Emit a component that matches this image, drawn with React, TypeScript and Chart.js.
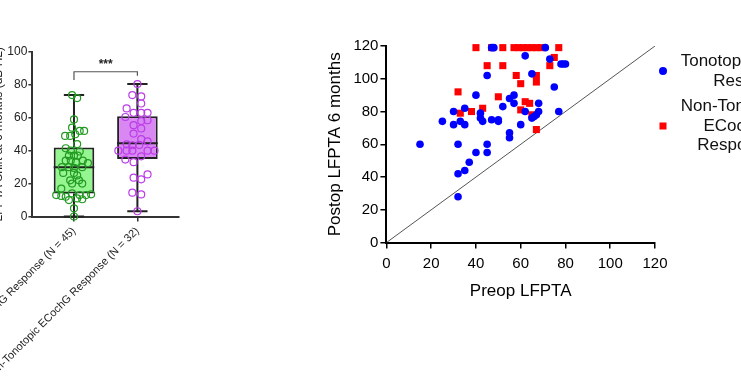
import React, { useEffect, useRef } from "react";
import { Chart, registerables } from "chart.js";

Chart.register(...registerables);

const FONT = '"Liberation Sans", Arial, Helvetica, sans-serif';

// ---------- Left panel: box plot ----------
const groupLabels = ["Tonotopic ECochG Response (N = 45)", "Non-Tonotopic ECochG Response (N = 32)"];
const groupPositions = [0, 1];
const boxQ1 = [14, 35];
const boxQ3 = [42, 61];
const boxMedian = [30, 44.5];
const whiskerLow = [0, 3.2];
const whiskerHigh = [73.8, 80.5];
const leftYTitle = "LFPTA Shift at 6 months (dB HL)";

const tonoShift = [73.8, 72, 59, 54, 49, 49, 52, 52, 50, 44, 41.5, 40, 39.5, 37, 37, 37, 34, 34, 33, 34, 32.5, 30, 30, 29.5, 30, 26.5, 26.5, 25, 22, 22, 20, 20, 17, 13, 12.5, 12, 14, 13, 13, 13.5, 10, 11, 10.5, 5, 0];
const tonoJitter = [-0.03, 0.05, 0, -0.03, -0.14, -0.06, 0.09, 0.16, 0.02, 0.05, -0.13, -0.05, 0.09, -0.08, 0, 0.06, -0.13, -0.05, 0.03, 0.14, 0.22, -0.19, -0.08, 0, 0.13, -0.17, 0, 0.05, -0.06, 0.08, -0.03, 0.13, -0.2, -0.28, -0.2, -0.13, -0.03, 0.09, 0.19, 0.27, -0.08, 0.05, 0.13, 0, 0];
const nonTonoShift = [80.5, 73.8, 73, 68.7, 65.7, 63, 63, 63, 60.5, 58.5, 58, 55.5, 53.5, 50.4, 47, 45.7, 43.9, 43.3, 43.5, 40, 40, 40, 40, 40, 34.6, 33, 36.6, 23.6, 22.6, 25.6, 14.5, 13.4, 3.2];
const nonTonoJitter = [0, -0.08, 0.06, 0.06, -0.17, -0.06, 0.06, 0.16, -0.19, 0.16, 0.06, -0.06, 0.06, -0.06, 0.06, 0.16, -0.17, -0.08, 0.03, -0.3, -0.17, -0.08, 0.16, 0.27, -0.19, -0.06, 0.06, -0.06, 0.06, 0.16, -0.08, 0.06, 0];

const bracketX = [0, 0, 1, 1];
const bracketY = [83, 88, 88, 85.5];
const sigText = "***";
const sigPos = [0.5, 92];

// ---------- Right panel: scatter ----------
const tonoPreop = [15, 25, 30, 30, 32, 32, 35, 37, 32, 33, 35, 35, 40, 40, 42, 42, 43, 45, 45, 45, 47, 48, 47, 50, 50, 52, 55, 57, 57, 55, 55, 60, 62, 62, 65, 65, 66, 67, 68, 68, 71, 73, 75, 77, 78, 79, 80];
const tonoPostop = [60, 74, 80, 72, 60, 42, 44, 49, 28, 74, 72, 82, 90, 55, 79, 76, 74, 102, 60, 55, 119, 119, 75, 75, 74, 83, 88, 90, 85, 67, 64, 72, 114, 80, 103, 76, 77, 78, 80, 85, 119, 112, 95, 80, 109, 109, 109];
const nonTonoPreop = [40, 47, 52, 57, 59, 61, 63, 65, 67, 69, 77, 45, 52, 73, 75, 32, 33, 38, 43, 50, 58, 60, 62, 64, 60, 67, 67, 65, 67];
const nonTonoPostop = [119, 119, 119, 119, 119, 119, 119, 119, 119, 119, 119, 108, 108, 108, 113, 92, 79, 80, 82, 89, 102, 97, 86, 85, 81, 102, 98, 78, 69];
const identityX = [0, 120];
const identityY = [0, 120];
const rightXTitle = "Preop LFPTA";
const rightYTitle = "Postop LFPTA 6 months";
const legendLines = [["Tonotopic ECochG", "Response"], ["Non-Tonotopic", "ECochG", "Response"]];

type Target = { left: number; top: number; right: number; bottom: number };

function fitTo(chart: any, canvas: HTMLCanvasElement, t: Target) {
  for (let i = 0; i < 5; i++) {
    const ca = chart.chartArea;
    const dw = (t.right - t.left) - (ca.right - ca.left);
    const dh = (t.bottom - t.top) - (ca.bottom - ca.top);
    if (Math.abs(dw) < 0.5 && Math.abs(dh) < 0.5) break;
    chart.resize(Math.round(chart.width + dw), Math.round(chart.height + dh));
  }
  const ca = chart.chartArea;
  canvas.style.left = `${Math.round(t.left - ca.left)}px`;
  canvas.style.top = `${Math.round(t.top - ca.top)}px`;
}

const axisGrid = (color: string, len: number) => ({
  display: true,
  drawOnChartArea: false,
  drawTicks: true,
  tickLength: len,
  color,
  lineWidth: 1.5,
  offset: false,
});

export default function App() {
  const leftRef = useRef<HTMLCanvasElement>(null);
  const rightRef = useRef<HTMLCanvasElement>(null);

  useEffect(() => {
    Chart.defaults.font.family = FONT;
    const lc = leftRef.current!;
    const rc = rightRef.current!;

    const seg: any[] = [];
    const capHalf = 0.16;
    const boxHalf = 0.32;
    groupPositions.forEach((p, i) => {
      seg.push({ x: p, y: whiskerLow[i] }, { x: p, y: boxQ1[i] }, { x: p, y: null });
      seg.push({ x: p, y: boxQ3[i] }, { x: p, y: whiskerHigh[i] }, { x: p, y: null });
      seg.push({ x: p - capHalf, y: whiskerLow[i] }, { x: p + capHalf, y: whiskerLow[i] }, { x: p, y: null });
      seg.push({ x: p - capHalf, y: whiskerHigh[i] }, { x: p + capHalf, y: whiskerHigh[i] }, { x: p, y: null });
      seg.push({ x: p - boxHalf, y: boxMedian[i] }, { x: p + boxHalf, y: boxMedian[i] }, { x: p, y: null });
    });

    const starsPlugin = {
      id: "stars",
      afterDatasetsDraw(chart: any) {
        const { ctx, scales } = chart;
        ctx.save();
        ctx.font = `bold 12px ${FONT}`;
        ctx.fillStyle = "#222";
        ctx.textAlign = "center";
        ctx.textBaseline = "middle";
        ctx.fillText(sigText, scales.x.getPixelForValue(sigPos[0]), scales.y.getPixelForValue(sigPos[1]));
        ctx.restore();
      },
    };

    const left = new Chart(lc, {
      type: "bar",
      data: {
        datasets: [
          {
            type: "scatter",
            data: tonoShift.map((v, i) => ({ x: groupPositions[0] + tonoJitter[i], y: v })),
            pointStyle: "circle",
            pointRadius: 3.5,
            borderColor: "#229a22",
            backgroundColor: "rgba(0,0,0,0)",
            borderWidth: 1.2,
            clip: false,
            order: 0,
          } as any,
          {
            type: "scatter",
            data: nonTonoShift.map((v, i) => ({ x: groupPositions[1] + nonTonoJitter[i], y: v })),
            pointStyle: "circle",
            pointRadius: 3.5,
            borderColor: "#bb3de8",
            backgroundColor: "rgba(0,0,0,0)",
            borderWidth: 1.2,
            clip: false,
            order: 0,
          } as any,
          {
            type: "line",
            data: seg,
            borderColor: "#222",
            borderWidth: 2,
            pointRadius: 0,
            spanGaps: false,
            clip: false,
            order: 1,
          } as any,
          {
            type: "line",
            data: bracketX.map((x, i) => ({ x, y: bracketY[i] })),
            borderColor: "#555",
            borderWidth: 1.2,
            pointRadius: 0,
            clip: false,
            order: 1,
          } as any,
          {
            type: "bar",
            data: groupPositions.map((p, i) => ({ x: p, y: [boxQ1[i], boxQ3[i]] })),
            backgroundColor: ["#95f590", "#d987f3"],
            borderColor: "#222",
            borderWidth: 2,
            borderSkipped: false,
            barPercentage: 0.64,
            categoryPercentage: 1,
            order: 2,
          } as any,
        ],
      },
      options: {
        animation: false,
        responsive: false,
        maintainAspectRatio: false,
        layout: { padding: { top: 10, right: 10, left: 0, bottom: 0 } },
        plugins: { legend: { display: false }, tooltip: { enabled: false } },
        scales: {
          x: {
            type: "linear",
            min: -0.656,
            max: 1.656,
            offset: false,
            afterBuildTicks: (s: any) => {
              s.ticks = groupPositions.map((v) => ({ value: v }));
            },
            ticks: {
              autoSkip: false,
              maxRotation: 45,
              minRotation: 45,
              padding: 3,
              color: "#222",
              font: { size: 11, family: FONT },
              callback: (v: any) => {
                const i = groupPositions.indexOf(Number(v));
                return i >= 0 ? groupLabels[i] : "";
              },
            },
            grid: axisGrid("#333", 5),
            border: { display: true, color: "#333", width: 2 },
          },
          y: {
            type: "linear",
            min: 0,
            max: 100,
            ticks: { stepSize: 20, padding: 1, color: "#222", font: { size: 12, family: FONT } },
            grid: axisGrid("#333", 4),
            border: { display: true, color: "#333", width: 2 },
            title: {
              display: true,
              text: leftYTitle,
              color: "#222",
              font: { size: 12, family: FONT },
              padding: { top: 0, bottom: 0 },
            },
          },
        },
      } as any,
      plugins: [starsPlugin],
    });
    fitTo(left, lc, { left: 32, top: 52, right: 180, bottom: 216 });

    const legendPlugin = {
      id: "sideLegend",
      afterDraw(chart: any) {
        const { ctx, chartArea } = chart;
        const x0 = chartArea.right;
        const y0 = chartArea.top;
        ctx.save();
        ctx.font = `17px ${FONT}`;
        ctx.fillStyle = "#111";
        ctx.textAlign = "center";
        ctx.textBaseline = "middle";
        const items = [
          { lines: legendLines[0], top: 15.7, marker: 25, color: "#0000ff", shape: "circle" },
          { lines: legendLines[1], top: 60.7, marker: 80, color: "#ff0000", shape: "rect" },
        ];
        items.forEach((it) => {
          const w = Math.max(...it.lines.map((l) => ctx.measureText(l).width));
          const cx = x0 + 25.7 + w / 2;
          it.lines.forEach((l, k) => ctx.fillText(l, cx, y0 + it.top + k * 19.2));
          ctx.fillStyle = it.color;
          if (it.shape === "circle") {
            ctx.beginPath();
            ctx.arc(x0 + 8, y0 + it.marker, 4, 0, Math.PI * 2);
            ctx.fill();
          } else {
            ctx.fillRect(x0 + 4.5, y0 + it.marker - 3.5, 7, 7);
          }
          ctx.fillStyle = "#111";
        });
        ctx.restore();
      },
    };

    const right = new Chart(rc, {
      type: "scatter",
      data: {
        datasets: [
          {
            label: legendLines[0].join(" "),
            data: tonoPreop.map((x, i) => ({ x, y: tonoPostop[i] })),
            pointStyle: "circle",
            pointRadius: 3.8,
            backgroundColor: "#0000ff",
            borderColor: "#0000ff",
            borderWidth: 0,
            clip: false,
            order: 1,
          } as any,
          {
            label: legendLines[1].join(" "),
            data: nonTonoPreop.map((x, i) => ({ x, y: nonTonoPostop[i] })),
            pointStyle: "rect",
            pointRadius: 5,
            backgroundColor: "#ff0000",
            borderColor: "#ff0000",
            borderWidth: 0,
            clip: false,
            order: 2,
          } as any,
          {
            type: "line",
            data: identityX.map((x, i) => ({ x, y: identityY[i] })),
            borderColor: "#555",
            borderWidth: 1,
            pointRadius: 0,
            order: 3,
          } as any,
        ],
      },
      options: {
        animation: false,
        responsive: false,
        maintainAspectRatio: false,
        layout: { padding: { top: 10, right: 140, left: 0, bottom: 0 } },
        plugins: { legend: { display: false }, tooltip: { enabled: false } },
        scales: {
          x: {
            type: "linear",
            min: 0,
            max: 120,
            ticks: { stepSize: 20, padding: 6, color: "#000", font: { size: 15, family: FONT } },
            grid: axisGrid("#000", 6),
            border: { display: true, color: "#000", width: 2 },
            title: {
              display: true,
              text: rightXTitle,
              color: "#000",
              font: { size: 17, family: FONT },
              padding: { top: 3, bottom: 0 },
            },
          },
          y: {
            type: "linear",
            min: 0,
            max: 120,
            ticks: { stepSize: 20, padding: 2, color: "#000", font: { size: 15, family: FONT } },
            grid: axisGrid("#000", 6),
            border: { display: true, color: "#000", width: 2 },
            title: {
              display: true,
              text: rightYTitle,
              color: "#000",
              font: { size: 17, family: FONT },
              padding: { top: 0, bottom: 6 },
            },
          },
        },
      } as any,
      plugins: [legendPlugin],
    });
    fitTo(right, rc, { left: 386, top: 46, right: 655, bottom: 243 });

    return () => {
      left.destroy();
      right.destroy();
    };
  }, []);

  return (
    <div
      style={{
        position: "absolute",
        left: 0,
        top: 0,
        width: 741,
        height: 388,
        overflow: "hidden",
        background: "#fff",
      }}
    >
      <canvas ref={leftRef} width={320} height={420} style={{ position: "absolute", left: 0, top: 0 }} />
      <canvas ref={rightRef} width={520} height={400} style={{ position: "absolute", left: 300, top: 0 }} />
    </div>
  );
}
